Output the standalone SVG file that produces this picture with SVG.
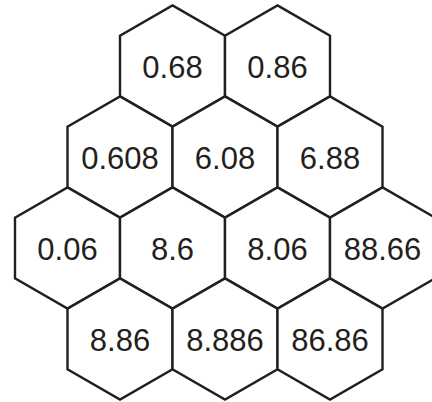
<svg xmlns="http://www.w3.org/2000/svg" xmlns:xlink="http://www.w3.org/1999/xlink" width="432" height="402" viewBox="0 0 432 402">
<style>
.hex{fill:#ffffff;stroke:#231f20;stroke-width:2.4;stroke-linejoin:miter}
.lbl{font-family:"Liberation Sans",Arial,sans-serif;font-size:31px;fill:#231f20;text-anchor:middle}
</style>
<defs>
<polygon id="h" points="0,-60.6 52.5,-30.3 52.5,30.3 0,60.6 -52.5,30.3 -52.5,-30.3"/>
</defs>
<rect width="432" height="402" fill="#ffffff"/>
<g id="connectors"></g>
<g id="n1" transform="translate(172.5,66)"><use xlink:href="#h" class="hex"/><text class="lbl" y="12">0.68</text></g>
<g id="n2" transform="translate(277.5,66)"><use xlink:href="#h" class="hex"/><text class="lbl" y="12">0.86</text></g>
<g id="n3" transform="translate(120,157)"><use xlink:href="#h" class="hex"/><text class="lbl" y="12">0.608</text></g>
<g id="n4" transform="translate(225,157)"><use xlink:href="#h" class="hex"/><text class="lbl" y="12">6.08</text></g>
<g id="n5" transform="translate(330,157)"><use xlink:href="#h" class="hex"/><text class="lbl" y="12">6.88</text></g>
<g id="n6" transform="translate(67.5,248)"><use xlink:href="#h" class="hex"/><text class="lbl" y="12">0.06</text></g>
<g id="n7" transform="translate(172.5,248)"><use xlink:href="#h" class="hex"/><text class="lbl" y="12">8.6</text></g>
<g id="n8" transform="translate(277.5,248)"><use xlink:href="#h" class="hex"/><text class="lbl" y="12">8.06</text></g>
<g id="n9" transform="translate(382.5,248)"><use xlink:href="#h" class="hex"/><text class="lbl" y="12">88.66</text></g>
<g id="n10" transform="translate(120,339)"><use xlink:href="#h" class="hex"/><text class="lbl" y="12">8.86</text></g>
<g id="n11" transform="translate(225,339)"><use xlink:href="#h" class="hex"/><text class="lbl" y="12">8.886</text></g>
<g id="n12" transform="translate(330,339)"><use xlink:href="#h" class="hex"/><text class="lbl" y="12">86.86</text></g>
</svg>
